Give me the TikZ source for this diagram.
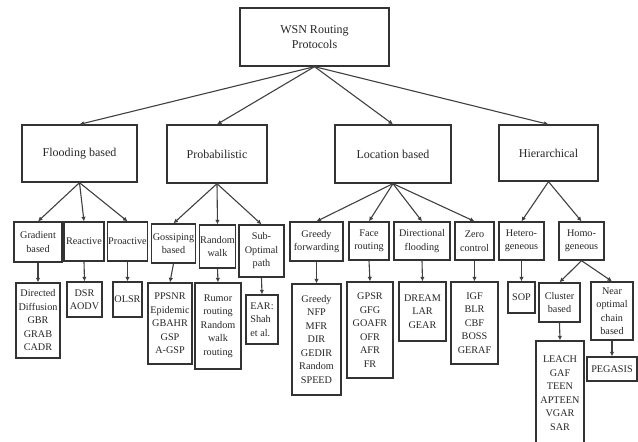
\documentclass[tikz,border=0pt]{standalone}
\usepackage{fontspec}
\setmainfont{Liberation Serif}
\usetikzlibrary{arrows.meta}
\tikzstyle{box}=[%
	draw=black!80, line width=1.3pt, align=center, inner sep=1pt,
	text=black!85, font=\fontsize{10.2}{13.5}\selectfont
]
\tikzstyle{bigbox}=[box, font=\fontsize{12}{15.5}\selectfont]
\tikzstyle{link}=[draw=black!75, line width=1.1pt, -{Latex[length=4.5pt,width=4.5pt]}]

\begin{document}
\begin{tikzpicture}[x=1pt, y=-1pt]
	\useasboundingbox (0,0) rectangle (638,442);

	% top
	\node[bigbox, minimum width=149, minimum height=58] (root) at (314.5,37) {WSN Routing\\Protocols};

	\node[bigbox, minimum width=115, minimum height=57] (flood) at (79.5,153.5) {Flooding based};
	\node[bigbox, minimum width=100, minimum height=58] (prob) at (217,154) {Probabilistic};
	\node[bigbox, minimum width=116, minimum height=58] (loc) at (393,154) {Location based};
	\node[bigbox, minimum width=99, minimum height=56] (hier) at (548.5,153) {Hierarchical};

	% second row
	\node[box, minimum width=48, minimum height=40] (grad) at (38,242) {Gradient\\based};
	\node[box, minimum width=40, minimum height=39] (react) at (84,241.5) {Reactive};
	\node[box, minimum width=39, minimum height=39] (proact) at (127.5,241.5) {Proactive};

	\node[box, minimum width=43, minimum height=39] (goss) at (173.5,243.5) {Gossiping\\based};
	\node[box, minimum width=35, minimum height=43] (rwalk) at (217.5,246.5) {Random\\walk};
	\node[box, minimum width=45, minimum height=52] (subopt) at (261.5,251) {Sub-\\Optimal\\path};

	\node[box, minimum width=53, minimum height=39] (greedy) at (316.5,241.5) {Greedy\\forwarding};
	\node[box, minimum width=40, minimum height=38] (face) at (369,241) {Face\\routing};
	\node[box, minimum width=56, minimum height=38] (dirfl) at (422,241) {Directional\\flooding};
	\node[box, minimum width=39, minimum height=38] (zero) at (474.5,241) {Zero\\control};

	\node[box, minimum width=45, minimum height=38] (hetero) at (521.5,241) {Hetero-\\geneous};
	\node[box, minimum width=45, minimum height=38] (homo) at (581.5,241) {Homo-\\geneous};

	% third row
	\node[box, minimum width=44, minimum height=75] (diffl) at (38,320.5) {Directed\\Diffusion\\GBR\\GRAB\\CADR};
	\node[box, minimum width=35, minimum height=35] (dsrl) at (84.5,299.5) {DSR\\AODV};
	\node[box, minimum width=29, minimum height=35] (olsrl) at (127.5,299.5) {OLSR};

	\node[box, minimum width=44, minimum height=81] (ppsnrl) at (170,323.5) {PPSNR\\Epidemic\\GBAHR\\GSP\\A-GSP};
	\node[box, minimum width=46, minimum height=86] (rumorl) at (218,326) {Rumor\\routing\\Random\\walk\\routing};
	\node[box, minimum width=32, minimum height=49, align=left] (earl) at (262,319.5) {EAR:\\Shah\\et al.};

	\node[box, minimum width=49, minimum height=111] (greedyl) at (316.5,339.5) {Greedy\\NFP\\MFR\\DIR\\GEDIR\\Random\\SPEED};
	\node[box, minimum width=46, minimum height=96] (gpsrl) at (370,330) {GPSR\\GFG\\GOAFR\\OFR\\AFR\\FR};
	\node[box, minimum width=47, minimum height=59] (dreaml) at (422.5,311.5) {DREAM\\LAR\\GEAR};
	\node[box, minimum width=47, minimum height=82] (igfl) at (474.5,323) {IGF\\BLR\\CBF\\BOSS\\GERAF};

	\node[box, minimum width=27, minimum height=31] (sopl) at (521.5,297.5) {SOP};
	\node[box, minimum width=41, minimum height=39] (cluster) at (559.5,302.5) {Cluster\\based};
	\node[box, minimum width=42, minimum height=58] (nearopt) at (612,311) {Near\\optimal\\chain\\based};

	% fourth row
	\node[box, minimum width=48, minimum height=104] (leachl) at (560,393) {LEACH\\GAF\\TEEN\\APTEEN\\VGAR\\SAR};
	\node[box, minimum width=50, minimum height=24] (pegasisl) at (612,369) {PEGASIS};

	% links
	\draw[link] (root.south) -- (flood.north);
	\draw[link] (root.south) -- (prob.north);
	\draw[link] (root.south) -- (loc.north);
	\draw[link] (root.south) -- (hier.north);

	\draw[link] (flood.south) -- (grad.north);
	\draw[link] (flood.south) -- (react.north);
	\draw[link] (flood.south) -- (proact.north);
	\draw[link] (prob.south) -- (goss.north);
	\draw[link] (prob.south) -- (rwalk.north);
	\draw[link] (prob.south) -- (subopt.north);
	\draw[link] (loc.south) -- (greedy.north);
	\draw[link] (loc.south) -- (face.north);
	\draw[link] (loc.south) -- (dirfl.north);
	\draw[link] (loc.south) -- (zero.north);
	\draw[link] (hier.south) -- (hetero.north);
	\draw[link] (hier.south) -- (homo.north);

	\draw[link] (grad.south) -- (diffl.north);
	\draw[link] (react.south) -- (dsrl.north);
	\draw[link] (proact.south) -- (olsrl.north);
	\draw[link] (goss.south) -- (ppsnrl.north);
	\draw[link] (rwalk.south) -- (rumorl.north);
	\draw[link] (subopt.south) -- (earl.north);
	\draw[link] (greedy.south) -- (greedyl.north);
	\draw[link] (face.south) -- (gpsrl.north);
	\draw[link] (dirfl.south) -- (dreaml.north);
	\draw[link] (zero.south) -- (igfl.north);
	\draw[link] (hetero.south) -- (sopl.north);
	\draw[link] (homo.south) -- (cluster.north);
	\draw[link] (homo.south) -- (nearopt.north);
	\draw[link] (cluster.south) -- (leachl.north);
	\draw[link] (nearopt.south) -- (pegasisl.north);
\end{tikzpicture}
\end{document}
